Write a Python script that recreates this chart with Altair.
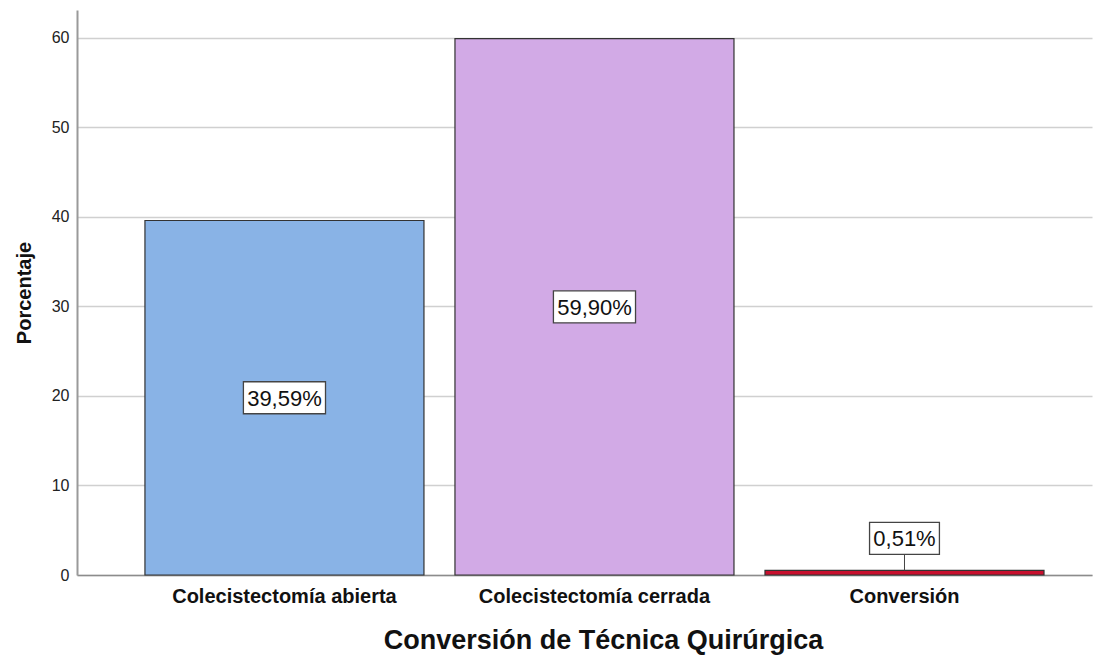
import altair as alt
import pandas as pd

categories = ["Colecistectomía abierta", "Colecistectomía cerrada", "Conversión"]
values = [39.59, 59.90, 0.51]
labels = ["39,59%", "59,90%", "0,51%"]
colors = ["#89B3E6", "#D2AAE6", "#C8102E"]

FONT = "Liberation Sans"
LABEL_SIZE = 22

df = pd.DataFrame({"cat": categories, "val": values, "lab": labels})
df["ly"] = [v / 2 if v > 5 else v + 3.57 for v in df["val"]]
df["ltop"] = [v + 2.0 if v <= 5 else None for v in df["val"]]

CHAR_W = {",": 0.278, "%": 0.889}


def box_path(label):
    tw = sum(CHAR_W.get(c, 0.556) for c in label) * LABEL_SIZE
    w = (tw + 7.5) / 2 / 50.0
    h = 16.0 / 50.0
    return f"M{-w},{-h}L{w},{-h}L{w},{h}L{-w},{h}Z"


df["shape"] = [box_path(l) for l in df["lab"]]

x_scale = alt.Scale(paddingInner=0.1, paddingOuter=0.187, align=0.586)

x_enc = alt.X(
    "cat:N",
    sort=categories,
    title="Conversión de Técnica Quirúrgica",
    scale=x_scale,
    axis=alt.Axis(
        labelAngle=0,
        labelFont=FONT,
        labelFontSize=20,
        labelFontWeight="bold",
        labelColor="#111111",
        labelPadding=11,
        labelLimit=0,
        ticks=False,
        domainColor="#8c8c8c",
        domainWidth=1.5,
        titleFont=FONT,
        titleFontSize=27,
        titleFontWeight="bold",
        titleColor="#111111",
        titlePadding=21,
        titleX=526,
        titleAlign="center",
    ),
)

y_scale = alt.Scale(domain=[0, 63.1], nice=False)

bars = alt.Chart(df).mark_bar(stroke="#333333", strokeWidth=1.2).encode(
    x=x_enc,
    y=alt.Y(
        "val:Q",
        title="Porcentaje",
        scale=y_scale,
        axis=alt.Axis(
            values=[0, 10, 20, 30, 40, 50, 60],
            grid=True,
            gridColor="#d0d0d0",
            gridWidth=1.5,
            ticks=False,
            domainColor="#9a9a9a",
            domainWidth=2,
            labelFont=FONT,
            labelFontSize=16,
            labelColor="#222222",
            labelPadding=8,
            titleFont=FONT,
            titleFontSize=20,
            titleFontWeight="bold",
            titleColor="#111111",
            titlePadding=17,
        ),
    ),
    color=alt.Color("cat:N", scale=alt.Scale(domain=categories, range=colors), legend=None),
)

leader = alt.Chart(df).mark_rule(color="#444444", strokeWidth=1).encode(
    x=alt.X("cat:N", sort=categories),
    y=alt.Y("ltop:Q", scale=y_scale),
    y2=alt.Y2("val:Q"),
)

boxes = alt.Chart(df).mark_point(
    filled=True, fill="white", stroke="#444444", strokeWidth=1.3, opacity=1
).encode(
    x=alt.X("cat:N", sort=categories),
    y=alt.Y("ly:Q", scale=y_scale),
    shape=alt.Shape("shape:N", scale=None),
    size=alt.value(10000),
)

texts = alt.Chart(df).mark_text(
    font=FONT, fontSize=LABEL_SIZE, color="#111111", baseline="middle", align="center", dy=1
).encode(
    x=alt.X("cat:N", sort=categories),
    y=alt.Y("ly:Q", scale=y_scale),
    text="lab:N",
)

chart = (
    alt.layer(bars, leader, boxes, texts)
    .properties(
        width=1015,
        height=565,
        autosize=alt.AutoSizeParams(type="none"),
        padding={"left": 77, "top": 10, "right": 12, "bottom": 82},
        background="white",
    )
    .configure_view(stroke=None)
)

chart.save("out.html", embed_options={"renderer": "svg", "actions": False})
